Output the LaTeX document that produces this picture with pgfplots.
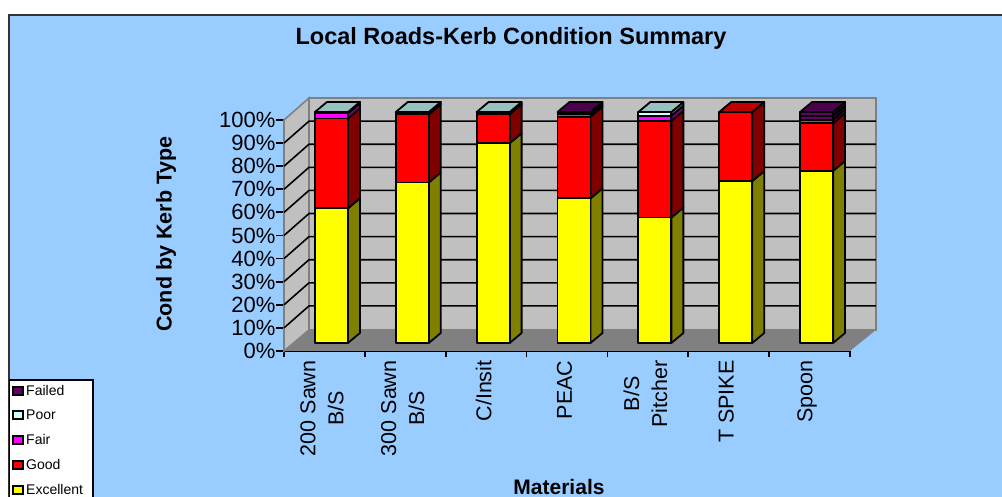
\documentclass[border=0pt]{standalone}
\usepackage{pgfplots}
\pgfplotsset{compat=1.18}
\usepackage{fontspec}
\setmainfont{Liberation Sans}
\definecolor{bgc}{HTML}{99CCFF}
\definecolor{wallc}{HTML}{C0C0C0}
\definecolor{floorc}{HTML}{808080}
\definecolor{exF}{HTML}{FFFF00}\definecolor{exS}{HTML}{808000}\definecolor{exT}{HTML}{C0C000}
\definecolor{goF}{HTML}{FF0000}\definecolor{goS}{HTML}{800000}\definecolor{goT}{HTML}{C00000}
\definecolor{faF}{HTML}{FF00FF}\definecolor{faS}{HTML}{800080}\definecolor{faT}{HTML}{C000C0}
\definecolor{poF}{HTML}{CCFFFF}\definecolor{poS}{HTML}{668080}\definecolor{poT}{HTML}{99C0C0}
\definecolor{fdF}{HTML}{660066}\definecolor{fdS}{HTML}{330033}\definecolor{fdT}{HTML}{4D004D}
% one stacked segment: index, lower, upper, colour prefix
\newcommand{\seg}[4]{%
  \pgfmathsetmacro{\xa}{#1+0.383}\pgfmathsetmacro{\xb}{\xa+0.408}\pgfmathsetmacro{\xc}{\xb+0.148}%
  \pgfmathsetmacro{\ya}{#2+3.46}\pgfmathsetmacro{\yb}{#3+3.46}%
  \pgfmathsetmacro{\yc}{\ya+4.33}\pgfmathsetmacro{\yd}{\yb+4.33}%
  \addplot[draw=black,line width=1.8pt,fill=#4S,line join=round] coordinates {(\xb,\ya)(\xc,\yc)(\xc,\yd)(\xb,\yb)} -- cycle;
  \addplot[draw=black,line width=1.8pt,fill=#4F,line join=round] coordinates {(\xa,\ya)(\xb,\ya)(\xb,\yb)(\xa,\yb)} -- cycle;
}
\newcommand{\topface}[3]{%
  \pgfmathsetmacro{\xa}{#1+0.383}\pgfmathsetmacro{\xb}{\xa+0.408}\pgfmathsetmacro{\xc}{\xb+0.148}\pgfmathsetmacro{\xd}{\xa+0.148}%
  \pgfmathsetmacro{\yb}{#2+3.46}\pgfmathsetmacro{\yd}{\yb+4.33}%
  \addplot[draw=black,line width=1.8pt,fill=#3T,line join=round] coordinates {(\xa,\yb)(\xb,\yb)(\xc,\yd)(\xd,\yd)} -- cycle;
}
\begin{document}
\begin{tikzpicture}[x=1pt,y=1pt]
\path[use as bounding box] (0,0) rectangle (1002,497);
\fill[white] (0,0) rectangle (1002,497);
\fill[bgc] (9,0) rectangle (1002,482);
\draw[black!80,line width=2pt] (9,0) -- (9,482) -- (1002,482);
\node[font=\bfseries\fontsize{23.5}{25}\selectfont] at (511,459) {Local Roads-Kerb Condition Summary};
\node[font=\bfseries\fontsize{21.5}{24}\selectfont,rotate=90] at (166,263) {Cond by Kerb Type};
\node[font=\bfseries\fontsize{21}{24}\selectfont] at (559,10) {Materials};
\begin{axis}[
  at={(284pt,146pt)},anchor=south west,
  scale only axis,width=566pt,height=231pt,
  xmin=0,xmax=7,ymin=0,ymax=100,
  clip=false,
  axis x line*=bottom,axis y line*=left,
  axis line style={black,line width=1.8pt,-},
  xtick={0.5,1.5,2.5,3.5,4.5,5.5,6.5},
  major x tick style={draw=none},
  minor xtick={0,1,...,7},
  minor x tick style={black,line width=1.8pt},
  minor tick length=6pt,
  xticklabels={{200 Sawn\\B/S},{300 Sawn\\B/S},{C/Insit},{PEAC},{B/S\\Pitcher},{T SPIKE},{Spoon}},
  xticklabel style={rotate=90,anchor=east,align=center,font=\fontsize{21.5}{28}\selectfont,xshift=2pt,yshift=2.5pt},
  ytick={0,10,...,100},
  yticklabel={\pgfmathprintnumber{\tick}\%},
  yticklabel style={font=\fontsize{22}{24}\selectfont,xshift=3pt},
  tick style={black,line width=1.8pt},
  major tick length=8pt,
  tick align=outside,
  /pgf/number format/assume math mode=true,
]
% walls and floor
\fill[wallc,draw=floorc,line width=1.6pt] (axis cs:0,100) -- (axis cs:0.309,109.5) -- (axis cs:0.309,9.1) -- (axis cs:0,0) -- cycle;
\fill[wallc,draw=floorc,line width=1.6pt] (axis cs:0.309,109.5) -- (axis cs:7.32,109.5) -- (axis cs:7.32,9.1) -- (axis cs:0.309,9.1) -- cycle;
\fill[floorc] (axis cs:0,0) -- (axis cs:0.309,9.1) -- (axis cs:7.32,9.1) -- (axis cs:7,0) -- cycle;
\pgfplotsinvokeforeach{10,20,...,90}{
  \draw[black,line width=1.6pt] (axis cs:0,#1) -- (axis cs:0.309,#1+9.5) -- (axis cs:7.32,#1+9.5);
}
% bars: Excellent, Good, Fair, Poor, Failed upper bounds
\seg{0}{0}{58.3}{ex}\seg{0}{58.3}{97.2}{go}\seg{0}{97.2}{99.4}{fa}\seg{0}{99.4}{100}{po}\topface{0}{100}{po}
\seg{1}{0}{69.5}{ex}\seg{1}{69.5}{99}{go}\seg{1}{99}{100}{po}\topface{1}{100}{po}
\seg{2}{0}{86.5}{ex}\seg{2}{86.5}{99}{go}\seg{2}{99}{100}{po}\topface{2}{100}{po}
\seg{3}{0}{62.6}{ex}\seg{3}{62.6}{98}{go}\seg{3}{98}{99.2}{fa}\seg{3}{99.2}{100}{fd}\topface{3}{100}{fd}
\seg{4}{0}{54.3}{ex}\seg{4}{54.3}{96.2}{go}\seg{4}{96.2}{98.4}{fa}\seg{4}{98.4}{100}{po}\topface{4}{100}{po}
\seg{5}{0}{70.1}{ex}\seg{5}{70.1}{100}{go}\topface{5}{100}{go}
\seg{6}{0}{74.5}{ex}\seg{6}{74.5}{95.2}{go}\seg{6}{95.2}{96.7}{fa}\seg{6}{96.7}{98.4}{fd}\seg{6}{98.4}{100}{fd}\topface{6}{100}{fd}
\end{axis}
% legend
\fill[white,draw=black,line width=1.5pt] (9.5,-2) rectangle (93,117);
\foreach \y/\c/\t in {106/fdF/Failed,82/poF/Poor,57/faF/Fair,32/goF/Good,7/exF/Excellent}{
  \draw[black,line width=1.5pt,fill=\c] (13,\y-4) rectangle (23,\y+4);
  \node[anchor=west,inner sep=0pt,font=\fontsize{14}{15}\selectfont] at (26,\y) {\t};
}
\end{tikzpicture}
\end{document}
